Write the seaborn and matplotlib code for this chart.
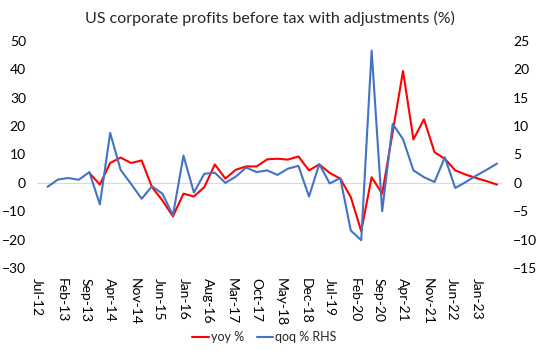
import numpy as np
import pandas as pd
import matplotlib
matplotlib.use("Agg")
import matplotlib.pyplot as plt
import seaborn as sns

# quarterly, Q4 2012 .. Q3 2023
quarters = pd.date_range("2012-10-01", periods=44, freq="QS-OCT")

yoy = [np.nan, np.nan, np.nan, np.nan, 3.5, -0.6, 7.0, 8.9, 7.0, 7.9,
       -1.5, -6.2, -11.8, -3.8, -4.8, -1.5, 6.5, 1.5, 4.6, 5.8,
       5.8, 8.3, 8.5, 8.2, 9.3, 4.4, 6.5, 3.5, 1.5, -5.0,
       -17.0, 2.0, -3.8, 17.9, 39.4, 15.3, 22.4, 10.8, 8.5, 4.4,
       2.9, 1.7, 0.6, -0.6]

qoq = [-0.7, 0.6, 0.85, 0.55, 1.9, -3.8, 8.8, 2.3, -0.2, -2.8,
       -0.6, -1.9, -5.7, 4.8, -1.7, 1.6, 1.8, 0.0, 1.1, 2.7,
       1.9, 2.2, 1.4, 2.5, 3.0, -2.4, 3.3, -0.1, 0.85, -8.4,
       -10.1, 23.3, -5.0, 10.4, 7.7, 2.2, 1.0, 0.15, 4.5, -0.9,
       0.15, 1.3, 2.3, 3.4]

tick_dates = pd.date_range("2012-07-01", "2023-01-01", freq="7MS")

df = pd.DataFrame({"date": quarters, "yoy": yoy, "qoq": qoq})

sns.set_style("white")
plt.rcParams["font.family"] = ["Lato", "DejaVu Sans"]

fig = plt.figure(figsize=(5.4, 3.52), dpi=100)
ax = fig.add_axes([0.0685, 0.2386, 0.8615, 0.645])
ax2 = ax.twinx()

sns.lineplot(data=df, x="date", y="yoy", ax=ax, color="#ff0000", lw=1.5, label="yoy %", legend=False)
sns.lineplot(data=df, x="date", y="qoq", ax=ax2, color="#4472c4", lw=1.5, label="qoq % RHS", legend=False)

ax.set_ylim(-30, 50)
ax2.set_ylim(-15, 25)
ax.set_yticks(range(-30, 51, 10))
ax2.set_yticks(range(-15, 26, 5))
ax.set_xlim(pd.Timestamp("2012-07-01"), pd.Timestamp("2023-08-15"))
ax.axhline(0, color="#d9d9d9", lw=0.8, zorder=0)

ax.set_xticks(tick_dates)
ax.set_xticklabels([d.strftime("%b-%y") for d in tick_dates], rotation=-90, ha="center", va="top")

for a in (ax, ax2):
    for s in a.spines.values():
        s.set_visible(False)
    a.set_xlabel("")
    a.set_ylabel("")
    a.tick_params(length=0, labelsize=10, colors="#000000")
ax.tick_params(axis="y", pad=8)
ax2.tick_params(axis="y", pad=8)
ax.tick_params(axis="x", pad=7)

ax.set_title("US corporate profits before tax with adjustments (%)", fontsize=11.5, pad=13)

h1, l1 = ax.get_legend_handles_labels()
h2, l2 = ax2.get_legend_handles_labels()
fig.legend(h1 + h2, l1 + l2, loc="center", bbox_to_anchor=(0.49, 0.042), ncol=2,
           frameon=False, fontsize=9, handlelength=1.3, handletextpad=0.2, columnspacing=1.0)

fig.savefig("out.png", dpi=100)
